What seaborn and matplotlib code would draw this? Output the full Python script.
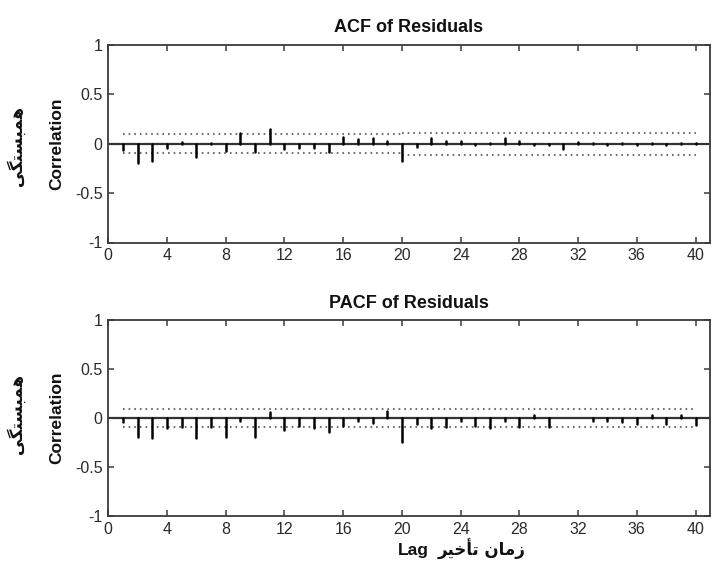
import matplotlib
matplotlib.use("Agg")
import matplotlib.pyplot as plt
import numpy as np
import pandas as pd
import seaborn as sns

# ---- data -------------------------------------------------------------
lags = list(range(1, 41))
acf_vals = [-0.06, -0.19, -0.175, -0.04, 0.02, -0.135, 0.005, -0.075, 0.105, -0.08,
            0.147, -0.057, -0.04, -0.04, -0.08, 0.072, 0.045, 0.06, 0.03, -0.175,
            -0.035, 0.055, 0.03, 0.025, -0.015, 0.004, 0.06, 0.03, -0.015, -0.015,
            -0.055, 0.02, 0.003, -0.01, 0.003, -0.01, 0.003, -0.01, 0.003, 0.003]
pacf_vals = [-0.04, -0.19, -0.205, -0.10, -0.09, -0.205, -0.095, -0.19, -0.03, -0.19,
             0.06, -0.12, -0.085, -0.10, -0.145, -0.085, -0.03, -0.05, 0.075, -0.245,
             -0.061, -0.10, -0.095, -0.035, -0.085, -0.10, -0.03, -0.095, 0.03, -0.095,
             0.004, 0.004, -0.03, -0.03, -0.04, -0.06, 0.035, -0.06, 0.035, -0.075]

# confidence bounds: (first lag, last lag, bound)
acf_bounds = [(1, 20, 0.097), (20, 40, 0.11)]
pacf_bounds = [(1, 40, 0.096)]

x_ticks = list(range(0, 41, 4))
y_ticks = [-1, -0.5, 0, 0.5, 1]
y_tick_labels = ["-1", "-0.5", "0", "0.5", "1"]

titles = ["ACF of Residuals", "PACF of Residuals"]
y_label = "Correlation"
y_label_fa = "همبستگی"
x_label = "Lag"
x_label_fa = "زمان تأخیر"


# ---- minimal Persian shaping (presentation forms, visual order) -------
FORMS = {  # isolated, final, initial, medial
    "ه": "\uFEE9\uFEEA\uFEEB\uFEEC", "م": "\uFEE1\uFEE2\uFEE3\uFEE4",
    "ب": "\uFE8F\uFE90\uFE91\uFE92", "س": "\uFEB1\uFEB2\uFEB3\uFEB4",
    "ت": "\uFE95\uFE96\uFE97\uFE98", "گ": "\uFB92\uFB93\uFB94\uFB95",
    "ی": "\uFBFC\uFBFD\uFBFE\uFBFF", "ن": "\uFEE5\uFEE6\uFEE7\uFEE8",
    "خ": "\uFEA5\uFEA6\uFEA7\uFEA8",
    "ز": "\uFEAF\uFEB0", "ا": "\uFE8D\uFE8E", "أ": "\uFE83\uFE84",
    "ر": "\uFEAD\uFEAE",
}


def shape_fa(text):
    out = []
    for i, ch in enumerate(text):
        if ch not in FORMS:
            out.append(ch)
            continue
        f = FORMS[ch]
        prev = text[i - 1] if i > 0 else ""
        nxt = text[i + 1] if i + 1 < len(text) else ""
        joins_prev = prev in FORMS and len(FORMS[prev]) == 4
        joins_next = len(f) == 4 and nxt in FORMS
        if joins_prev and joins_next:
            out.append(f[3])
        elif joins_prev:
            out.append(f[1])
        elif joins_next:
            out.append(f[2])
        else:
            out.append(f[0])
    return "".join(reversed(out))


# ---- style ------------------------------------------------------------
sns.set_style("ticks")
plt.rcParams["font.family"] = ["Liberation Sans", "DejaVu Sans"]
frame_col = "#3a3a3a"
tick_col = "#2a2a2a"

fig = plt.figure(figsize=(7.11, 5.62), dpi=100)
W, H = 711, 562
ax_boxes = [(108.3, 45, 709.5, 242.5), (108.3, 320, 709.5, 516)]
axes = [fig.add_axes([l / W, 1 - b / H, (r - l) / W, (b - t) / H]) for l, t, r, b in ax_boxes]


def stem_frame(values):
    rows = []
    for lag, v in zip(lags, values):
        rows.append({"lag": lag, "value": 0.0})
        rows.append({"lag": lag, "value": v})
    return pd.DataFrame(rows)


def bound_frame(bounds):
    rows = []
    for k, (a, b, v) in enumerate(bounds):
        for sign, side in ((1, "up"), (-1, "lo")):
            rows.append({"lag": a, "value": sign * v, "seg": f"{k}{side}"})
            rows.append({"lag": b, "value": sign * v, "seg": f"{k}{side}"})
    return pd.DataFrame(rows)


for ax, vals, bnds, title in zip(axes, [acf_vals, pacf_vals], [acf_bounds, pacf_bounds], titles):
    ax.axhline(0, color="#333333", lw=1.6, zorder=2)
    sns.lineplot(data=bound_frame(bnds), x="lag", y="value", units="seg", estimator=None,
                 color="#707070", lw=1.5, linestyle=(0, (0.8, 1.9)), ax=ax, zorder=3)
    sns.lineplot(data=stem_frame(vals), x="lag", y="value", units="lag", estimator=None,
                 color="black", lw=1.8, ax=ax, zorder=4)

    ax.set_xlim(0, 40.95)
    ax.set_ylim(-1, 1)
    ax.set_xticks(x_ticks)
    ax.set_xticklabels([str(t) for t in x_ticks])
    ax.set_yticks(y_ticks)
    ax.set_yticklabels(y_tick_labels)
    ax.tick_params(direction="in", length=4, width=1.1, color=frame_col,
                   top=True, right=True, labelsize=11.5, labelcolor=tick_col, pad=4)
    for s in ax.spines.values():
        s.set_visible(True)
        s.set_color(frame_col)
        s.set_linewidth(1.3)
    ax.set_xlabel("")
    ax.set_ylabel(y_label, fontsize=12.5, fontweight="bold", labelpad=8, color="#111111")
    ax.set_title(title, fontsize=13, fontweight="bold", pad=9, color="#111111")

# Persian y labels
for yc in (146, 414):
    fig.text(16 / W, 1 - yc / H, shape_fa(y_label_fa), rotation=90, ha="center", va="center",
             fontsize=12, fontweight="bold", family=["DejaVu Sans"], color="#111111")

# bottom axis label, English + Persian
fig.text(413 / W, 1 - 550 / H, x_label, ha="center", va="center",
         fontsize=12.5, fontweight="bold", color="#111111")
fig.text(482 / W, 1 - 549 / H, shape_fa(x_label_fa), ha="center", va="center",
         fontsize=12, fontweight="bold", family=["DejaVu Sans"], color="#111111")

fig.savefig("out.png", dpi=100, facecolor="white")
